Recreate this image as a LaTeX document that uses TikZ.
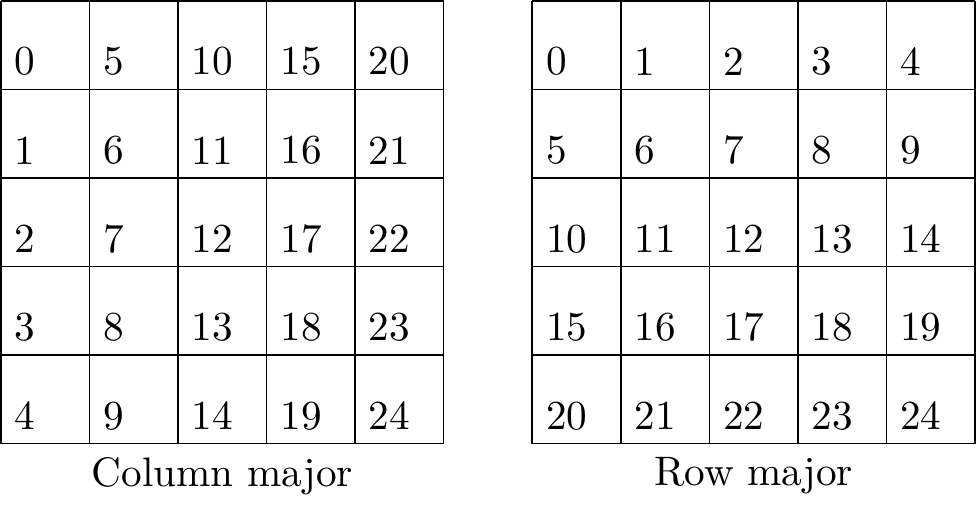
\documentclass[tikz,border=0pt]{standalone}
\usepackage{tikz}

\begin{document}
\begin{tikzpicture}[x=0.8cm, y=0.8cm,
font=\fontsize{10.6pt}{12.7pt}\selectfont,
num/.style={anchor=south west},
caption/.style={anchor=north}]
\useasboundingbox (-0.0125,-0.7375) rectangle (11.0125,5.0125);
%================================================================
%	Grids
\draw[step={(1,1)}] (0,0) grid (5,5);
\draw[step={(1,1)}] (6,0) grid (11,5);

%================================================================
%	Column major
\node[style=num] (c0) at (0,4) {0};
\node[style=num] (c1) at (0,3) {1};
\node[style=num] (c2) at (0,2) {2};
\node[style=num] (c3) at (0,1) {3};
\node[style=num] (c4) at (0,0) {4};
\node[style=num] (c5) at (1,4) {5};
\node[style=num] (c6) at (1,3) {6};
\node[style=num] (c7) at (1,2) {7};
\node[style=num] (c8) at (1,1) {8};
\node[style=num] (c9) at (1,0) {9};
\node[style=num] (c10) at (2,4) {10};
\node[style=num] (c11) at (2,3) {11};
\node[style=num] (c12) at (2,2) {12};
\node[style=num] (c13) at (2,1) {13};
\node[style=num] (c14) at (2,0) {14};
\node[style=num] (c15) at (3,4) {15};
\node[style=num] (c16) at (3,3) {16};
\node[style=num] (c17) at (3,2) {17};
\node[style=num] (c18) at (3,1) {18};
\node[style=num] (c19) at (3,0) {19};
\node[style=num] (c20) at (4,4) {20};
\node[style=num] (c21) at (4,3) {21};
\node[style=num] (c22) at (4,2) {22};
\node[style=num] (c23) at (4,1) {23};
\node[style=num] (c24) at (4,0) {24};

%================================================================
%	Row major
\node[style=num] (r0) at (6,4) {0};
\node[style=num] (r1) at (7,4) {1};
\node[style=num] (r2) at (8,4) {2};
\node[style=num] (r3) at (9,4) {3};
\node[style=num] (r4) at (10,4) {4};
\node[style=num] (r5) at (6,3) {5};
\node[style=num] (r6) at (7,3) {6};
\node[style=num] (r7) at (8,3) {7};
\node[style=num] (r8) at (9,3) {8};
\node[style=num] (r9) at (10,3) {9};
\node[style=num] (r10) at (6,2) {10};
\node[style=num] (r11) at (7,2) {11};
\node[style=num] (r12) at (8,2) {12};
\node[style=num] (r13) at (9,2) {13};
\node[style=num] (r14) at (10,2) {14};
\node[style=num] (r15) at (6,1) {15};
\node[style=num] (r16) at (7,1) {16};
\node[style=num] (r17) at (8,1) {17};
\node[style=num] (r18) at (9,1) {18};
\node[style=num] (r19) at (10,1) {19};
\node[style=num] (r20) at (6,0) {20};
\node[style=num] (r21) at (7,0) {21};
\node[style=num] (r22) at (8,0) {22};
\node[style=num] (r23) at (9,0) {23};
\node[style=num] (r24) at (10,0) {24};

%================================================================
%	Captions
\node[style=caption] (lcol) at (2.5,0) {Column major};
\node[style=caption] (lrow) at (8.5,0) {Row major};
%================================================================
\end{tikzpicture}
\end{document}
